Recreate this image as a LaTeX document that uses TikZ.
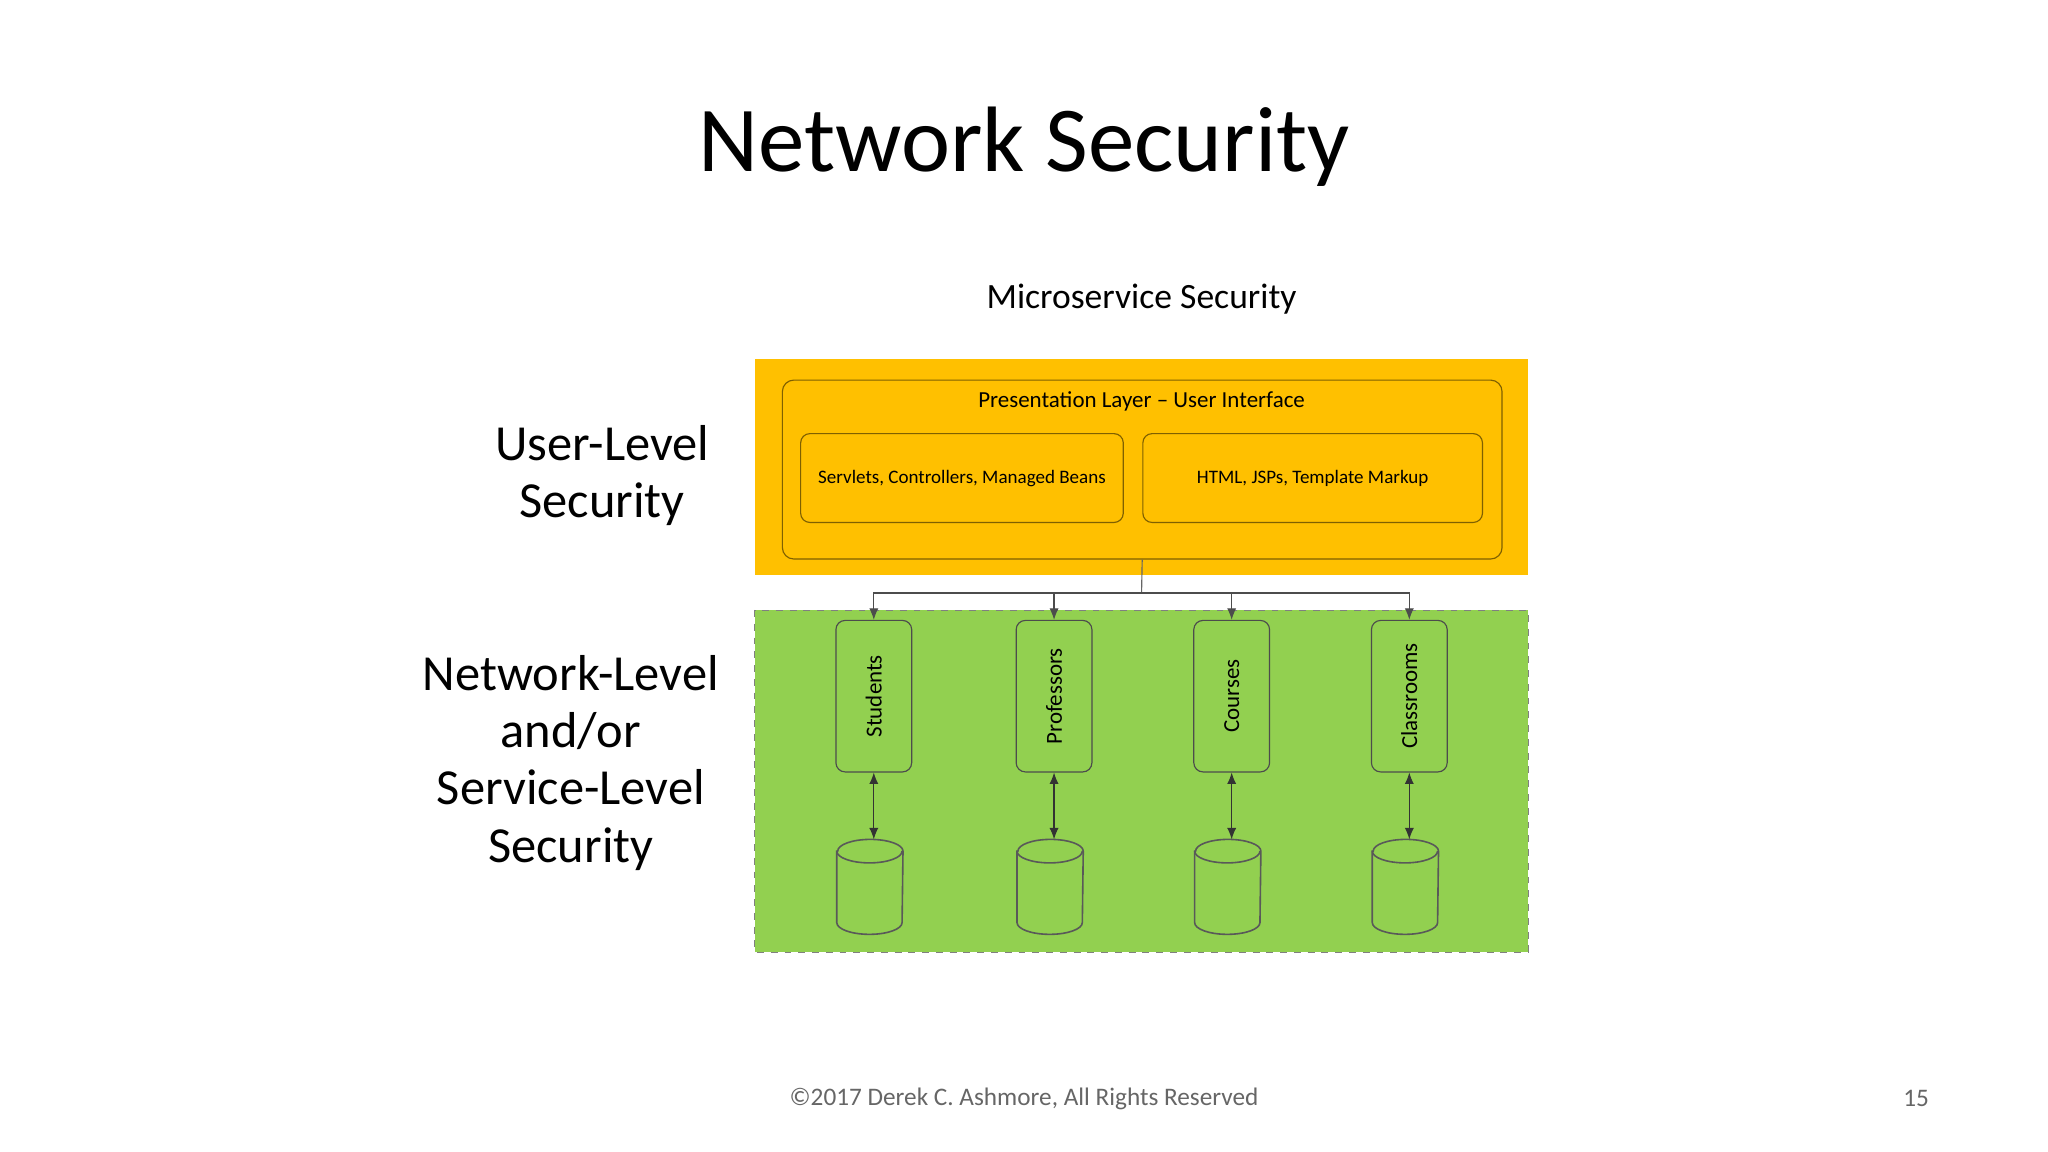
\documentclass[tikz,border=0pt]{standalone}
\usepackage{fontspec}
\setmainfont{Carlito}
\usetikzlibrary{arrows.meta}
\definecolor{org}{HTML}{FFC000}
\definecolor{grn}{HTML}{92D050}
\definecolor{edge}{HTML}{7F6000}
\begin{document}
\begin{tikzpicture}[x=0.02cm,y=-0.02cm,
  lbl/.style={align=center,font=\fontsize{22}{25}\selectfont},
  inbox/.style={draw=edge,rounded corners=4pt,line width=0.5pt,font=\fontsize{8.3}{10}\selectfont,inner sep=0},
  svc/.style={draw=black!70,fill=grn,rounded corners=4pt,line width=0.5pt,minimum width=58*0.02cm,minimum height=116*0.02cm},
  dbline/.style={draw=black!65,fill=grn,line width=0.7pt},
  arr/.style={-{Latex[length=5pt,width=4pt]},black!70,line width=0.5pt},
  darr/.style={{Latex[length=5pt,width=4pt]}-{Latex[length=5pt,width=4pt]},black!80,line width=0.5pt}]
\useasboundingbox[fill=white] (0,0) rectangle (1568,882);
\node[font=\fontsize{40.5}{46}\selectfont] (title) at (784,112) {Network Security};
\node[font=\fontsize{15.5}{18}\selectfont] (ms) at (874,229) {Microservice Security};
\node[lbl] (ul) at (461,364) {User-Level\\Security};
\node[lbl] (nl) at (437,584) {Network-Level\\and/or\\Service-Level\\Security};
\fill[org] (578,275) rectangle (1170,440);
\node[draw=edge,rounded corners=5pt,line width=0.5pt,minimum width=551*0.02cm,minimum height=137*0.02cm] (pres) at (874.5,359.5) {};
\node[font=\fontsize{10}{12}\selectfont] (prest) at (874,307) {Presentation Layer – User Interface};
\node[inbox,minimum width=247*0.02cm,minimum height=68*0.02cm] (serv) at (736.5,366) {Servlets, Controllers, Managed Beans};
\node[inbox,minimum width=260*0.02cm,minimum height=68*0.02cm] (html) at (1005,366) {HTML, JSPs, Template Markup};
\filldraw[fill=grn,draw=black!50,dashed,line width=0.4pt] (578,467) rectangle (1170,729);
\foreach \n/\x/\t in {s/669/Students,p/807/Professors,c/943/Courses,r/1079/Classrooms}{
  \node[svc] (\n) at (\x,533) {};
  \node[rotate=90,font=\fontsize{10}{12}\selectfont] (\n t) at (\x,533) {\t};
  \node[minimum width=50*0.02cm,minimum height=72*0.02cm,inner sep=0] (\n db) at (\x-3,679) {};
  \path[dbline] ([yshift=-9*0.02cm]\n db.north west) -- ([yshift=9*0.02cm]\n db.south west)
     arc[start angle=180,end angle=360,x radius=25*0.02cm,y radius=9*0.02cm]
     -- ([yshift=-9*0.02cm]\n db.north east)
     arc[start angle=0,end angle=180,x radius=25*0.02cm,y radius=9*0.02cm] -- cycle;
  \draw[draw=black!65,line width=0.7pt] ([yshift=-9*0.02cm]\n db.north west)
     arc[start angle=180,end angle=360,x radius=25*0.02cm,y radius=9*0.02cm];
}
\coordinate (j) at (874,454);
\draw[black!60,line width=0.5pt] (pres.south) -- (j);
\foreach \n in {s,p,c,r}{
  \draw[arr] (j) -| (\n.north);
  \draw[darr] (\n.south) -- (\n.south |- \n db.north);
}
\node[font=\fontsize{11}{13}\selectfont,text=black!60] (foot) at (784,841) {©2017 Derek C. Ashmore, All Rights Reserved};
\node[font=\fontsize{11}{13}\selectfont,text=black!60] (num) at (1467,841) {15};
\end{tikzpicture}
\end{document}
